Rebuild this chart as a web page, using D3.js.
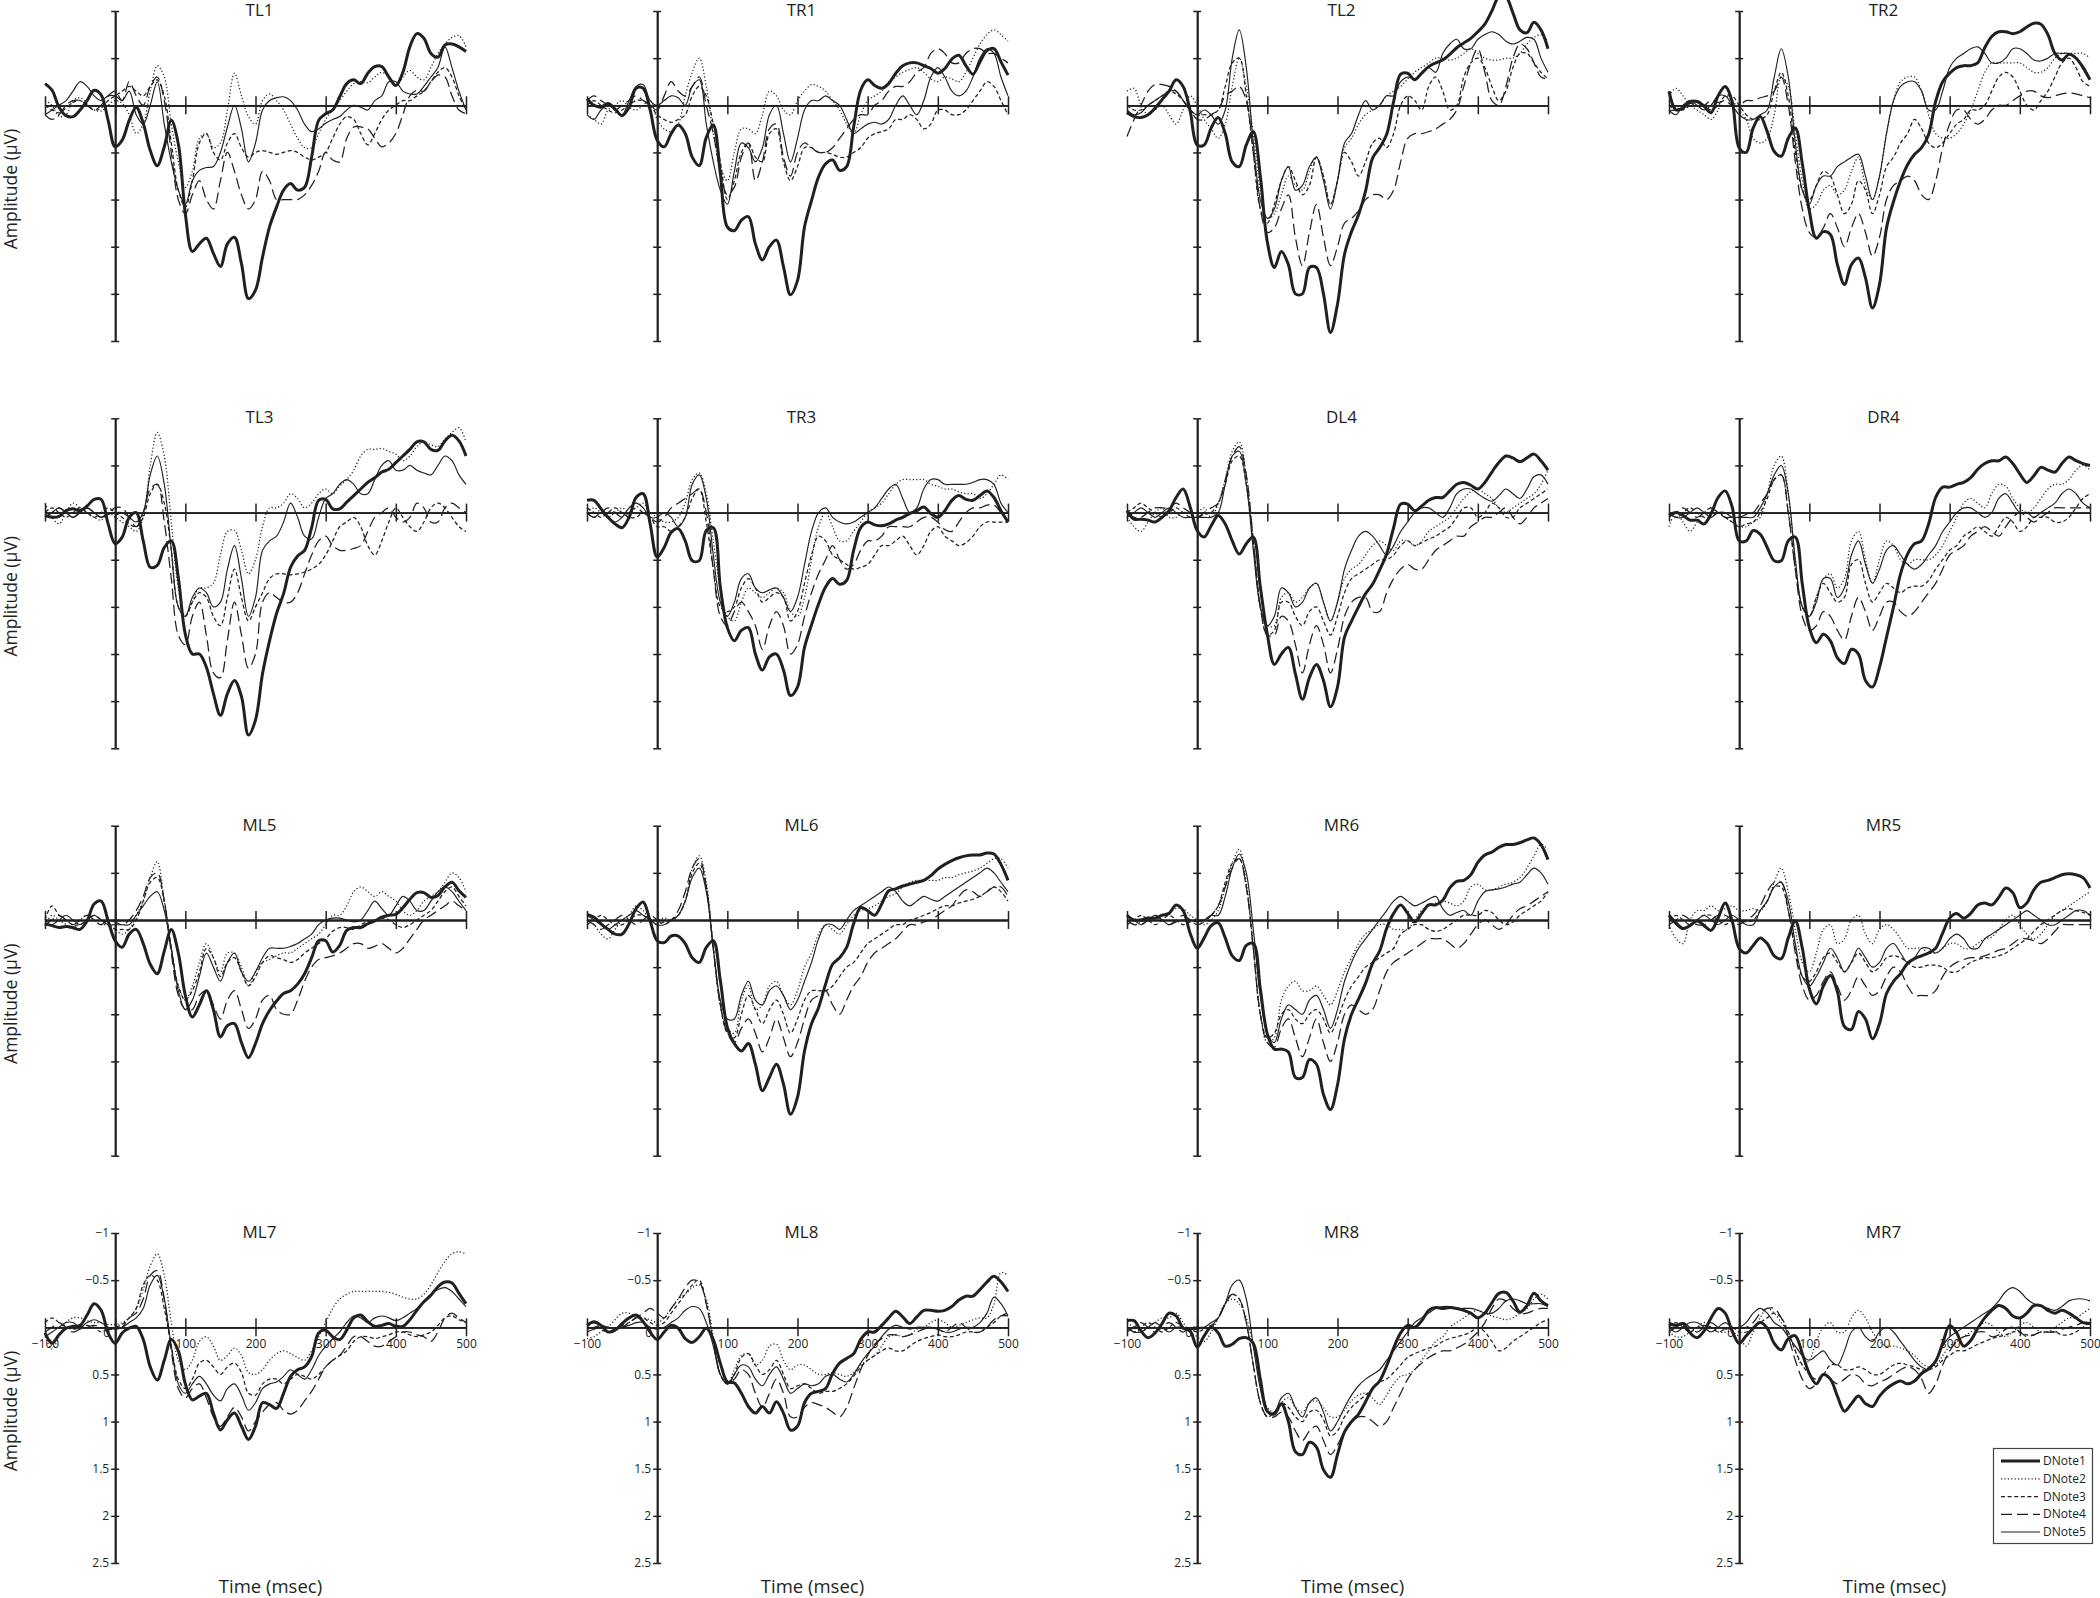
<!DOCTYPE html>
<html><head><meta charset="utf-8">
<script src="https://cdn.jsdelivr.net/npm/d3@7"></script>
<style>
body{margin:0;background:#fff}
svg{display:block}
text{font-family:"Open Sans","Noto Sans",sans-serif;fill:#231f20}
</style>
</head><body>
<svg id="chart" width="2100" height="1598"></svg>
<script>
// ---------- data ----------
const times = [-100,-90,-80,-70,-60,-50,-40,-30,-20,-10,0,10,20,30,40,50,60,70,80,90,100,110,120,130,140,150,160,170,180,190,200,210,220,230,240,250,260,270,280,290,300,310,320,330,340,350,360,370,380,390,400,410,420,430,440,450,460,470,480,490,500];
const seriesNames = ["DNote1","DNote2","DNote3","DNote4","DNote5"];
const panelNames = ["TL1","TR1","TL2","TR2","TL3","TR3","DL4","DR4","ML5","ML6","MR6","MR5","ML7","ML8","MR8","MR7"];
const yTickValues = [-1,-0.5,0,0.5,1,1.5,2,2.5];
const yTickLabels = ["−1","−0.5","","0.5","1","1.5","2","2.5"];
const xTickValues = [-100,0,100,200,300,400,500];
const xTickLabels = ["−100","0","100","200","300","400","500"];

// amplitude (µV) per series, sampled every 10 ms from -100 to 500
const TL1 = [
[-.23,-.16,.02,.11,.12,.05,-.05,-.16,-.11,.16, .44,.37,.16,.02,.19,.48,.64,.44,.16,.41, 1.15,1.55,1.47,1.41,1.57,1.71,1.47,1.4,1.68,2.05, 1.96,1.61,1.29,1.08,.9,.83,.9,.87,.55,.16, .09,.05,-.09,-.23,-.27,-.23,-.34,-.41,-.41,-.3, -.21,-.35,-.62,-.76,-.71,-.55,-.51,-.64,-.65,-.62, -.57],
[-.05,0,.12,.1,-.05,-.08,-.02,.05,.06,0, -.05,-.02,.1,.3,.2,-.15,-.42,-.3,.2,.6, .87,.7,.35,.3,.45,.4,.05,-.34,-.1,.12, .2,-.05,-.12,-.05,.05,.2,.35,.45,.45,.3, .15,.05,-.05,-.15,-.23,-.25,-.24,-.3,-.35,-.3, -.2,-.3,-.37,-.3,-.27,-.4,-.55,-.65,-.72,-.74, -.62],
[0,.05,.08,.03,-.03,-.05,0,.05,.03,-.05, -.1,-.15,-.2,-.15,-.1,-.2,-.27,-.1,.4,.9, 1.08,.8,.4,.3,.5,.58,.4,.3,.45,.55, .5,.48,.5,.52,.5,.48,.5,.55,.58,.55, .5,.35,.2,.12,.15,.3,.42,.3,.15,.05, 0,-.05,-.05,-.1,-.15,-.25,-.35,-.4,-.3,-.1, .05],
[.1,.15,.1,0,-.05,-.05,0,.05,0,-.1, -.15,-.05,-.25,-.1,0,-.2,-.3,-.05,.5,1.0, 1.15,.95,.8,1.0,1.1,.8,.5,.7,.95,1.1, 1.0,.7,.8,1.0,1.0,1.0,1.0,.95,.85,.7, .5,.58,.6,.35,.23,.23,.25,.35,.44,.4, .3,.1,-.1,-.16,-.15,-.25,-.32,-.3,-.1,.05, .09],
[.1,.05,0,-.05,-.15,-.25,-.2,-.1,-.05,-.1, -.1,-.05,-.15,.1,.2,0,-.25,.2,.6,.9, 1.05,.8,.69,.66,.65,.5,.23,0,.25,.6, .4,.05,-.05,-.08,-.09,-.05,.05,.2,.28,.25, .19,.15,.12,.05,0,.02,.05,-.05,-.1,-.25, -.25,-.15,-.12,-.12,-.2,-.3,-.4,-.62,-.4,-.15, .05]
];
const TR1 = [
[-.07,0,.02,-.02,.04,.11,.02,-.18,-.18,.05, .37,.44,.3,.21,.3,.55,.64,.34,.21,.72, 1.29,1.33,1.22,1.18,1.47,1.64,1.5,1.43,1.71,2.01, 1.86,1.29,1.01,.76,.62,.58,.69,.65,.23,-.16, -.27,-.21,-.18,-.23,-.34,-.42,-.45,-.45,-.42,-.39, -.34,-.39,-.49,-.53,-.42,-.33,-.46,-.58,-.6,-.46, -.32],
[.1,.15,.2,.05,0,-.05,.02,.05,0,-.05, .15,.25,.28,.2,-.1,-.35,-.5,-.2,.3,.65, .8,.5,.25,.25,.3,.1,-.15,-.1,.05,.1, -.05,-.15,-.22,-.2,-.15,-.05,.05,.2,.3,.1, -.05,-.1,-.15,-.25,-.3,-.35,-.38,-.4,-.35,-.28, -.25,-.3,-.28,-.25,-.35,-.5,-.65,-.75,-.8,-.75, -.68],
[0,-.05,0,.05,.08,.05,0,-.05,-.05,0, .1,.15,.18,.15,.1,-.1,-.2,-.1,.2,.6, 1.0,.8,.5,.4,.55,.6,.3,.25,.6,.8, .65,.45,.45,.5,.5,.52,.55,.55,.5,.45, .35,.3,.28,.25,.15,.15,.1,.15,.25,.2, .05,.05,.1,.1,.05,-.05,-.15,-.25,-.2,-.05, .1],
[-.05,-.1,-.05,0,.05,0,-.05,-.1,-.05,0, .05,-.1,-.25,-.15,-.1,-.2,-.3,0,.3,.7, .95,.87,.55,.4,.8,.6,.25,.2,.55,.75, .5,.4,.45,.5,.5,.45,.35,.25,.15,.1, .1,0,-.05,-.15,-.2,-.2,-.25,-.35,-.4,-.55, -.6,-.55,-.45,-.45,-.55,-.6,-.6,-.55,-.55,-.5, -.45],
[.1,.15,.05,0,.05,.1,-.05,-.2,-.22,-.05, 0,-.05,-.1,-.08,0,-.2,-.27,.2,.6,.9, 1.05,.7,.4,.45,.6,.45,.1,0,.3,.6, .35,.05,-.05,-.05,-.1,-.05,0,.15,.3,.25, .2,.18,.2,.15,0,-.1,0,.1,-.05,-.3, -.4,-.3,-.15,-.1,-.15,-.3,-.5,-.6,-.55,-.3, -.1]
];
const TL2 = [
[.08,.12,.13,.1,.03,-.06,-.15,-.27,-.2,.06, .42,.42,.24,.13,.3,.6,.65,.42,.28,.75, 1.45,1.72,1.55,1.69,2.0,2.0,1.72,1.72,2.0,2.41, 2.11,1.58,1.34,1.16,.91,.56,.45,.31,-.04,-.33, -.34,-.27,-.34,-.41,-.45,-.48,-.54,-.61,-.66,-.71, -.78,-.86,-1.0,-1.15,-1.15,-.98,-.8,-.77,-.88,-.8, -.6],
[-.15,-.18,0,.1,.05,0,.1,.2,.05,-.1, 0,.15,.25,.35,.2,-.2,-.5,-.2,.3,.9, 1.2,1.15,.95,.75,.85,.9,.7,.55,.75,1.05, .8,.45,.35,.2,.1,.05,0,-.1,-.15,-.2, -.28,-.35,-.4,-.45,-.5,-.5,-.48,-.5,-.55,-.6, -.55,-.5,-.48,-.48,-.5,-.5,-.55,-.65,-.72,-.75, -.68],
[0,.05,.05,0,-.05,-.1,-.15,-.12,-.05,.05, .1,.1,.1,.05,-.2,-.45,-.5,-.1,.5,1.1, 1.25,1.05,.8,.65,.8,.95,.85,.55,.75,1.05, .8,.5,.6,.75,.6,.4,.35,.45,.3,0, -.1,-.05,.05,-.2,-.3,-.15,.05,0,-.3,-.45, -.5,-.4,-.2,-.05,-.15,-.4,-.55,-.55,-.45,-.35, -.28],
[.33,.15,0,-.15,-.22,-.22,-.2,-.15,-.05,.05, .15,.15,.1,.05,-.1,-.15,-.2,-.05,.5,1.1, 1.35,1.3,1.1,.95,1.4,1.7,1.35,1.05,1.4,1.7, 1.5,1.25,1.2,1.12,1.0,.95,.95,1.0,.9,.6, .35,.3,.3,.28,.25,.2,.15,.05,-.2,-.45, -.6,-.35,-.05,0,-.2,-.5,-.65,-.6,-.45,-.3, -.28],
[.05,.1,.08,0,-.05,-.1,-.15,-.15,-.05,.05, .1,.05,.1,.2,.05,-.5,-.8,-.4,.4,1.0, 1.2,1.1,.8,.65,.9,.85,.65,.55,.8,1.1, .8,.4,.3,.1,-.05,.05,0,-.1,-.1,-.25, -.3,-.28,-.35,-.4,-.35,-.55,-.65,-.7,-.6,-.6, -.7,-.75,-.78,-.75,-.68,-.65,-.68,-.72,-.7,-.5, -.35]
];
const TR2 = [
[-.15,.05,.03,-.04,-.04,.01,.08,-.1,-.2,-.04, .45,.5,.24,.12,.28,.49,.54,.35,.24,.62, 1.12,1.41,1.34,1.37,1.69,1.9,1.69,1.62,1.83,2.15, 1.9,1.3,1.02,.8,.63,.52,.45,.31,-.04,-.25, -.34,-.4,-.42,-.42,-.45,-.61,-.73,-.78,-.78,-.76, -.78,-.83,-.87,-.86,-.75,-.55,-.48,-.54,-.5,-.4, -.27],
[-.1,-.18,-.1,0,.05,.1,.15,.05,-.1,-.05, .05,.15,.35,.4,.35,.1,-.3,-.2,.3,.8, 1.1,1.05,.9,.85,.95,.9,.7,.55,.85,1.0, .75,.3,-.05,-.25,-.3,-.3,-.15,.1,.3,.35, .35,.3,.2,.05,-.15,-.35,-.45,-.45,-.45,-.45, -.45,-.4,-.35,-.35,-.4,-.5,-.55,-.55,-.55,-.55, -.5],
[0,.05,.05,0,-.05,0,.05,0,-.1,-.1, 0,.1,.15,.15,.1,-.15,-.35,-.1,.5,.9, 1.0,.85,.7,.75,.95,1.15,1.05,.8,.9,1.15, .95,.65,.55,.4,.3,.15,.25,.4,.45,.4, .3,.2,.15,.05,.05,0,-.15,-.3,-.35,-.3, -.15,0,.05,-.05,-.15,-.3,-.45,-.5,-.4,-.25, -.2],
[.05,.05,0,-.02,0,0,-.05,-.03,-.05,0, 0,-.05,-.05,-.08,-.1,-.15,-.3,0,.6,1.1, 1.35,1.4,1.3,1.15,1.3,1.5,1.3,1.15,1.35,1.6, 1.4,1.0,.85,.8,.75,.8,.95,1.0,.8,.45, .2,.05,.05,.15,.2,.15,.05,0,0,-.05, -.1,-.15,-.15,-.1,-.08,-.1,-.12,-.13,-.12,-.1, -.08],
[.05,.1,0,-.05,0,.05,0,-.1,-.1,0, .1,.15,.15,.1,.05,-.3,-.6,-.3,.4,.9, 1.05,.85,.75,.75,.65,.6,.55,.52,.75,1.0, .75,.3,-.05,-.2,-.25,-.25,-.15,.05,.05,-.15, -.4,-.5,-.55,-.6,-.62,-.55,-.45,-.45,-.5,-.6, -.6,-.55,-.48,-.47,-.5,-.55,-.55,-.55,-.5,-.42, -.28]
];
const TL3 = [
[.03,.05,.04,-.02,-.04,-.02,-.07,-.14,-.14,.12, .33,.26,.05,0,.3,.58,.56,.37,.3,.69, 1.29,1.5,1.5,1.64,1.92,2.15,1.92,1.78,1.95,2.36, 2.2,1.71,1.36,1.07,.86,.58,.46,.4,.16,-.13, -.14,-.04,-.04,-.11,-.18,-.25,-.32,-.37,-.43,-.46, -.53,-.6,-.67,-.75,-.75,-.67,-.66,-.76,-.82,-.76, -.6],
[-.1,.05,.12,0,-.1,-.05,0,.05,.08,0, .05,.1,.15,.2,.05,-.5,-.85,-.6,.1,.8, 1.1,.95,.8,.8,.75,.45,.2,.19,.4,.65, .5,.15,-.05,-.05,-.1,-.2,-.15,-.05,-.1,-.2, -.25,-.2,-.28,-.35,-.45,-.6,-.67,-.67,-.68,-.65, -.62,-.55,-.6,-.7,-.75,-.72,-.7,-.78,-.85,-.9, -.75],
[0,-.05,0,.05,0,-.05,0,.05,0,-.05, 0,.05,.12,.15,.05,-.2,-.3,-.1,.4,1.0, 1.1,.95,.85,.9,1.1,1.2,.9,.6,.9,1.15, 1.0,.85,.7,.65,.65,.66,.65,.63,.6,.55, .45,.3,.15,.1,.05,.15,.35,.45,.3,.1, -.05,.05,.15,.2,.1,-.05,-.1,-.05,.05,.15, .2],
[.05,0,-.05,0,.05,0,-.05,0,.05,0, -.05,-.05,.05,.15,0,-.25,-.3,.1,.7,1.3, 1.4,1.1,.95,1.3,1.7,1.75,1.35,.95,1.3,1.65, 1.5,.95,.85,.9,.95,.95,.85,.65,.45,.3, .25,.35,.4,.4,.38,.35,.2,.05,0,-.05, .05,.1,.05,-.1,-.05,.1,.1,-.05,-.1,-.05, 0],
[.05,0,-.05,0,.05,0,-.05,0,.05,.02, 0,0,.05,.1,0,-.4,-.6,-.3,.4,1.0, 1.1,.9,.8,.85,1.0,.95,.6,.35,.7,1.1, .9,.4,.3,.25,.1,-.1,.05,.25,.28,.05, -.15,-.2,-.3,-.35,-.3,-.2,-.2,-.35,-.5,-.55, -.45,-.45,-.5,-.45,-.42,-.4,-.5,-.6,-.55,-.4, -.3]
];
const TR3 = [
[-.13,-.13,-.04,.05,.12,.16,.05,-.16,-.2,.12, .47,.37,.21,.17,.3,.51,.51,.19,.16,.79, 1.22,1.36,1.25,1.22,1.5,1.67,1.53,1.5,1.67,1.94, 1.85,1.43,1.19,.97,.79,.7,.76,.72,.4,.16, .1,.13,.14,.12,.08,.05,.01,-.02,-.06,.01, .05,-.02,-.13,-.18,-.14,-.13,-.18,-.23,-.16,-.02, .1],
[0,-.05,0,.05,0,-.05,0,-.05,-.1,0, .05,.1,.1,.05,-.1,-.35,-.42,-.2,.3,.8, 1.1,1.15,.95,.8,.85,.9,.85,.8,.85,1.05, 1.1,.9,.5,.15,0,.15,.3,.3,.2,.1, 0,-.05,-.1,-.2,-.3,-.35,-.35,-.35,-.35,-.3, -.28,-.25,-.25,-.22,-.2,-.2,-.15,-.2,-.3,-.4, -.35],
[-.05,0,.05,0,-.05,0,.05,.05,0,.05, .15,.15,.2,.15,.05,-.15,-.25,.1,.6,1.0, 1.05,1.0,.8,.7,.8,.95,.9,.85,.9,1.15, 1.05,.75,.45,.25,.3,.45,.5,.55,.6,.58, .55,.45,.35,.35,.3,.25,.35,.45,.35,.2, .15,.25,.3,.35,.32,.25,.15,.1,.1,.1, .1],
[0,.05,0,-.05,0,.05,0,-.05,0,.05, .1,.05,-.05,-.1,-.15,-.2,-.25,0,.6,1.1, 1.2,1.05,.95,1.05,1.2,1.45,1.2,1.05,1.2,1.5, 1.4,1.1,.85,.65,.5,.35,.5,.6,.55,.4, .3,.3,.25,.15,.15,.15,.15,.1,.05,.05, .1,.18,.2,.1,0,-.05,-.05,-.08,-.08,0, .1],
[0,.05,0,.05,.1,.05,-.05,-.1,-.05,.05, .05,0,.05,.15,.05,-.3,-.4,-.15,.45,.95, 1.1,.95,.7,.65,.8,.85,.82,.8,.9,1.05, .9,.55,.2,0,-.05,.05,.1,.12,.1,.05, 0,-.05,-.15,-.25,-.3,-.15,0,-.05,-.25,-.35, -.35,-.3,-.3,-.3,-.3,-.32,-.35,-.35,-.3,-.1, 0]
];
const DL4 = [
[-.02,.07,.07,.08,.1,.05,-.02,-.16,-.25,-.06, .19,.26,.14,.03,.12,.3,.44,.33,.26,.79, 1.29,1.61,1.5,1.43,1.71,1.98,1.75,1.61,1.78,2.06, 1.85,1.32,1.15,1.0,.86,.76,.61,.44,.16,-.09, -.09,-.02,-.07,-.13,-.16,-.16,-.23,-.3,-.32,-.29, -.25,-.32,-.43,-.53,-.6,-.58,-.54,-.58,-.62,-.55, -.45],
[.05,.15,.2,.1,0,-.05,.05,.05,0,0, 0,-.05,.05,-.1,-.35,-.65,-.75,-.4,.3,1.0, 1.2,1.2,.9,.85,.95,.9,.8,.75,.95,1.15, .95,.7,.6,.55,.45,.35,.3,.35,.4,.3, .3,.35,.3,.2,.15,.1,.05,-.05,-.15,-.22, -.25,-.2,-.15,-.05,0,-.05,-.1,-.15,-.2,-.3, -.45],
[0,-.05,-.1,-.05,0,.05,0,-.05,0,.05, .05,.02,0,-.1,-.3,-.55,-.6,-.3,.3,1.0, 1.3,1.25,.95,.95,1.1,1.2,1.05,1.0,1.15,1.3, 1.1,.85,.7,.65,.6,.55,.5,.5,.45,.35, .3,.35,.32,.28,.25,.2,.15,.05,-.05,-.05, .05,0,-.1,-.05,.05,.05,-.05,-.1,-.15,-.2, -.25],
[0,.05,.05,0,-.05,-.05,-.05,-.1,-.05,0, .05,0,-.05,-.1,-.35,-.6,-.7,-.4,.3,1.0, 1.3,1.3,1.1,1.15,1.4,1.7,1.4,1.2,1.4,1.7, 1.45,1.1,.95,.9,.9,1.05,1.05,.85,.7,.6, .55,.6,.6,.5,.4,.35,.3,.25,.25,.15, .1,.05,.05,0,-.05,.05,.12,.05,-.05,-.1, -.15],
[.05,0,-.05,0,.05,0,-.05,0,.05,.05, .05,.05,.05,0,-.3,-.6,-.65,-.3,.4,1.0, 1.2,1.1,.8,.85,1.0,.95,.8,.75,.95,1.15, .95,.6,.4,.25,.2,.25,.35,.45,.35,.2, .1,0,-.05,-.05,0,.05,-.05,-.2,-.25,-.25, -.2,-.15,-.12,-.18,-.25,-.2,-.15,-.25,-.38,-.4, -.3]
];
const DR4 = [
[.03,0,.03,.08,.08,.12,.01,-.16,-.23,-.06, .3,.3,.19,.23,.37,.51,.51,.3,.26,.76, 1.22,1.38,1.29,1.36,1.54,1.6,1.45,1.5,1.78,1.85, 1.64,1.32,1.0,.65,.44,.33,.3,.12,-.16,-.27, -.27,-.3,-.32,-.37,-.46,-.52,-.55,-.55,-.59,-.52, -.41,-.32,-.39,-.48,-.45,-.43,-.52,-.59,-.55,-.52, -.5],
[.15,0,.1,.2,.1,0,-.05,0,.05,.1, .15,.15,.1,.05,-.2,-.5,-.6,-.2,.5,1.0, 1.1,.9,.7,.65,.8,.7,.3,.2,.5,.75, .5,.3,.35,.5,.55,.5,.5,.5,.45,.35, .2,.05,-.1,-.15,-.1,-.05,-.2,-.3,-.28,-.15, -.05,0,-.05,-.15,-.25,-.3,-.3,-.35,-.45,-.5, -.45],
[0,.05,0,-.05,0,.05,.05,0,.05,.1, .15,.12,.1,0,-.15,-.35,-.4,0,.6,1.0, 1.1,.9,.75,.85,.95,.9,.55,.5,.75,.95, .85,.75,.8,.85,.8,.78,.78,.72,.6,.5, .4,.35,.25,.2,.15,.2,.25,.15,.05,.1, .2,.15,.05,.05,.05,.1,.1,.05,-.05,-.15, -.2],
[.05,0,-.05,0,.05,0,-.05,0,.05,.05, .05,.02,0,-.1,-.2,-.35,-.4,0,.6,1.1, 1.25,1.2,1.05,1.1,1.25,1.35,1.1,.9,1.05,1.25, 1.1,.95,.95,1.05,1.1,1.05,.95,.85,.75,.6, .45,.4,.35,.25,.2,.15,.2,.25,.15,.05, 0,.05,.1,.05,0,-.05,-.05,-.05,-.05,-.05, -.05],
[0,.05,.05,0,-.05,0,.05,0,0,.05, .05,.05,.05,-.05,-.2,-.4,-.5,-.2,.5,1.0, 1.1,.95,.7,.7,.9,.8,.45,.3,.55,.75, .6,.4,.35,.45,.55,.6,.55,.45,.35,.2, .1,0,-.05,-.05,0,.05,0,-.15,-.2,-.1, 0,0,.05,0,-.05,-.1,-.2,-.25,-.2,-.1, -.05]
];
const ML5 = [
[.04,.06,.08,.07,.08,.1,.01,-.17,-.2,.01, .22,.29,.15,.1,.25,.47,.57,.33,.1,.35, .8,1.03,.9,.75,.95,1.24,1.12,1.1,1.3,1.46, 1.31,1.1,.96,.86,.78,.75,.68,.57,.4,.22, .22,.34,.27,.11,.08,.08,.04,.01,-.03,-.05, -.06,-.13,-.22,-.29,-.29,-.24,-.26,-.35,-.4,-.31, -.24],
[.05,-.05,0,.05,.1,0,-.05,0,.05,.05, .1,.15,.1,-.05,-.2,-.45,-.62,-.2,.3,.7, .85,.7,.45,.25,.4,.55,.35,.35,.5,.7, .55,.45,.42,.38,.35,.35,.3,.25,.2,.15, .05,-.05,-.05,-.15,-.3,-.35,-.3,-.25,-.3,-.25, -.2,-.1,-.05,-.1,-.2,-.25,-.3,-.4,-.5,-.45, -.3],
[0,-.15,-.05,0,.05,.05,0,-.05,0,.05, .1,.1,.1,0,-.2,-.4,-.45,-.2,.3,.7, .85,.75,.55,.3,.4,.6,.45,.4,.55,.7, .6,.45,.38,.4,.42,.45,.42,.35,.3,.25, .2,.12,.08,.08,.1,.05,.02,0,-.02,0, .05,.08,.05,0,-.05,-.1,-.2,-.3,-.35,-.25, -.15],
[.05,0,-.05,0,.05,0,-.05,0,.05,0, .02,.05,0,-.1,-.25,-.45,-.5,-.2,.35,.8, .95,.95,.8,.75,.9,1.05,.85,.75,.95,1.15, 1.05,.85,.8,.95,1.0,1.0,.85,.65,.5,.42, .4,.38,.35,.3,.25,.25,.3,.28,.25,.3, .35,.3,.2,.1,0,-.05,-.1,-.15,-.2,-.15, -.1],
[.05,.05,0,-.05,0,.05,0,-.05,0,.05, .05,.05,.05,-.05,-.15,-.25,-.3,-.1,.3,.75, .95,.85,.6,.35,.5,.65,.45,.35,.55,.65, .55,.4,.3,.3,.3,.28,.25,.2,.15,.05, 0,-.02,-.02,0,.02,0,-.1,-.2,-.12,-.05, -.15,-.25,-.2,-.1,-.1,-.2,-.3,-.35,-.3,-.2, -.1]
];
const ML6 = [
[-.06,-.03,.04,.1,.15,.15,.04,-.12,-.19,.01, .22,.24,.17,.17,.25,.4,.45,.29,.22,.64, 1.14,1.31,1.39,1.31,1.53,1.81,1.67,1.53,1.74,2.06, 1.88,1.39,1.1,.93,.68,.47,.4,.29,.04,-.13, -.1,-.05,-.17,-.31,-.33,-.36,-.38,-.4,-.42,-.47, -.54,-.59,-.63,-.66,-.68,-.69,-.69,-.71,-.7,-.59, -.42],
[0,.05,.15,.2,.1,0,-.05,-.15,-.1,0, 0,-.02,0,-.05,-.2,-.55,-.68,-.4,.3,.9, 1.15,1.2,.85,.7,.95,.9,.7,.65,.8,.9, .75,.5,.35,.15,.05,.1,.15,.05,-.05,-.1, -.12,-.15,-.2,-.25,-.28,-.35,-.4,-.42,-.42,-.42, -.42,-.45,-.45,-.48,-.5,-.52,-.55,-.6,-.65,-.65, -.55],
[.05,0,-.05,0,.05,.05,0,-.05,-.05,0, .05,.02,0,-.05,-.2,-.5,-.6,-.35,.3,.9, 1.2,1.25,1.0,.8,.95,1.1,.95,.85,1.0,1.2, 1.05,.85,.75,.75,.75,.7,.6,.5,.45,.35, .25,.2,.15,.1,.05,.05,0,-.02,-.05,-.08, -.12,-.15,-.15,-.18,-.2,-.22,-.25,-.3,-.35,-.3, -.2],
[0,.05,.1,.05,0,-.05,0,.05,0,-.05, 0,.05,0,-.1,-.3,-.55,-.65,-.35,.3,.9, 1.2,1.3,1.15,1.05,1.2,1.4,1.25,1.05,1.25,1.45, 1.3,1.05,.85,.8,.75,.9,1.0,.85,.7,.6, .45,.35,.3,.25,.2,.12,.05,.05,.02,0, -.05,-.1,-.15,-.25,-.32,-.3,-.25,-.3,-.35,-.35, -.25],
[-.05,0,.05,.1,.05,0,-.05,-.1,-.05,0, .05,.05,0,-.05,-.2,-.45,-.55,-.3,.3,.85, 1.05,1.05,.8,.65,.85,.9,.75,.7,.8,.95, .85,.65,.45,.2,.05,.05,.1,0,-.1,-.15, -.2,-.25,-.3,-.35,-.3,-.2,-.15,-.2,-.25,-.22, -.2,-.25,-.3,-.35,-.4,-.45,-.5,-.55,-.5,-.4, -.3]
];
const MR6 = [
[-.05,0,0,-.02,-.02,-.05,-.07,-.16,-.1,.14, .3,.19,.06,.03,.19,.38,.43,.27,.25,.73, 1.21,1.37,1.37,1.4,1.67,1.67,1.48,1.53,1.85,2.01, 1.75,1.26,1.0,.84,.67,.46,.33,.09,-.07,-.16, -.07,.02,-.07,-.16,-.16,-.21,-.34,-.41,-.42,-.48, -.61,-.69,-.72,-.77,-.8,-.8,-.82,-.85,-.87,-.8, -.64],
[0,.05,.02,-.02,0,-.05,-.08,-.12,-.12,-.05, 0,.05,0,-.1,-.35,-.6,-.75,-.4,.3,1.0, 1.3,1.25,.85,.7,.65,.75,.75,.7,.8,.9, .75,.55,.4,.25,.15,.1,.05,.05,.1,.1, .1,0,-.1,-.15,-.18,-.2,-.18,-.15,-.2,-.35, -.38,-.32,-.32,-.35,-.38,-.4,-.45,-.55,-.68,-.8, -.75],
[.05,0,-.05,0,.05,0,-.05,0,.05,.02, 0,0,-.05,-.15,-.4,-.6,-.65,-.35,.3,1.0, 1.25,1.2,1.0,.95,1.05,1.1,1.0,.95,1.05,1.2, 1.05,.85,.7,.6,.5,.45,.4,.35,.3,.15, .1,.05,.05,.1,.12,.1,.05,0,-.05,-.05, -.05,-.1,-.08,0,.05,.02,-.05,-.1,-.15,-.2, -.3],
[0,.05,.05,0,-.05,0,.05,0,-.05,0, .05,.02,-.05,-.15,-.35,-.55,-.65,-.35,.3,1.0, 1.3,1.35,1.15,1.05,1.25,1.45,1.25,1.05,1.3,1.5, 1.3,1.0,.9,.95,1.0,.95,.75,.55,.45,.4, .35,.3,.25,.2,.2,.2,.25,.3,.25,.15, .05,0,.05,.1,.05,-.05,-.12,-.15,-.2,-.25, -.3],
[-.05,0,.05,0,-.05,0,.05,.02,0,0, .02,0,-.05,-.05,-.25,-.55,-.7,-.5,.1,.8, 1.2,1.3,1.05,.9,.95,1.0,.85,.8,.95,1.15, .95,.65,.45,.3,.2,.1,0,-.1,-.2,-.25, -.2,-.15,-.18,-.22,-.25,-.12,-.05,-.08,-.1,-.05, -.2,-.3,-.32,-.33,-.35,-.38,-.4,-.48,-.55,-.5, -.38]
];
const MR5 = [
[-.05,.03,.09,.06,.01,.06,.11,-.02,-.18,.01, .3,.35,.27,.19,.25,.38,.41,.19,.01,.3, .73,.89,.7,.59,.76,1.13,1.16,.97,1.05,1.26, 1.1,.78,.65,.57,.46,.41,.38,.35,.3,.14, -.02,-.07,-.02,-.07,-.16,-.18,-.16,-.24,-.34,-.29, -.13,-.18,-.32,-.4,-.42,-.45,-.48,-.49,-.48,-.45, -.34],
[.05,.2,.25,0,-.1,-.1,-.15,-.1,-.12,-.15, -.1,-.1,-.12,-.1,-.2,-.4,-.55,-.3,.1,.45, .55,.35,.1,.05,.25,.2,0,-.05,.15,.25, .1,.05,.1,.2,.3,.3,.3,.35,.35,.3, .25,.25,.3,.3,.25,.2,.18,.1,0,-.05, .05,.15,.2,.15,.05,-.05,-.1,-.15,-.2,-.25, -.3],
[0,-.05,0,.05,0,-.05,-.05,0,.05,0, 0,.02,0,-.1,-.2,-.35,-.35,-.1,.3,.6, .65,.55,.4,.35,.45,.55,.45,.35,.45,.55, .5,.4,.38,.4,.45,.5,.5,.48,.48,.5, .55,.55,.5,.45,.42,.4,.4,.38,.35,.3, .25,.2,.12,.05,0,-.05,-.1,-.12,-.1,-.08, -.05],
[.05,0,-.05,0,.05,.05,0,-.05,-.05,0, .05,0,-.05,-.15,-.3,-.4,-.4,-.1,.35,.7, .85,.8,.65,.55,.7,.85,.75,.6,.7,.8, .75,.6,.5,.55,.7,.8,.8,.8,.75,.6, .5,.45,.42,.4,.4,.38,.35,.32,.3,.25, .2,.2,.22,.25,.2,.12,.05,.05,.05,.05, .05],
[-.05,.05,.1,.05,0,-.05,0,.05,0,-.05, 0,.05,.05,-.1,-.2,-.35,-.4,-.2,.25,.6, .7,.6,.45,.3,.4,.55,.45,.3,.4,.5, .45,.3,.25,.35,.45,.4,.3,.3,.35,.3, .2,.15,.2,.3,.3,.2,.15,.1,.05,0, -.05,-.1,-.05,0,.05,.05,0,-.05,-.1,-.1, -.05]
];
const ML7 = [
[.06,.17,.08,.01,-.01,-.02,-.13,-.25,-.18,.06, .17,.06,.01,-.01,.13,.42,.56,.35,.13,.25, .6,.77,.73,.7,.91,1.09,.98,.91,1.05,1.19, 1.05,.8,.82,.86,.7,.52,.45,.42,.31,.06, .03,.1,.13,.03,-.1,-.13,-.06,-.01,-.02,-.04, -.01,-.01,-.08,-.18,-.27,-.34,-.43,-.48,-.47,-.36, -.25],
[.1,.23,.1,-.05,-.1,-.1,-.07,-.05,-.05,-.03, -.03,-.05,-.1,-.2,-.4,-.65,-.78,-.55,-.05,.35, .45,.35,.15,.1,.2,.35,.3,.22,.3,.48, .5,.45,.35,.28,.25,.28,.32,.35,.25,.1, -.05,-.2,-.3,-.35,-.38,-.38,-.38,-.38,-.38,-.37, -.35,-.32,-.3,-.3,-.35,-.45,-.58,-.7,-.78,-.8, -.78],
[-.05,-.1,-.05,0,.02,0,-.02,0,.05,.02, 0,-.03,-.1,-.2,-.45,-.55,-.5,-.2,.2,.55, .65,.55,.38,.35,.42,.5,.42,.38,.48,.7, .72,.6,.55,.55,.6,.55,.5,.52,.55,.5, .42,.35,.3,.25,.15,.1,.1,.12,.1,.08, .05,.05,.08,.1,.08,.05,-.02,-.1,-.12,-.08, -.05],
[.05,0,-.05,0,.05,.02,0,-.02,0,.02, .02,0,-.1,-.15,-.3,-.55,-.6,-.3,.25,.65, .75,.65,.6,.75,.95,1.05,.95,.85,.95,1.1, 1.0,.9,.82,.8,.88,.92,.88,.78,.68,.55, .42,.35,.3,.2,.1,.1,.15,.2,.2,.15, .1,.05,.05,.08,.1,.15,.05,-.1,-.15,-.1, -.05],
[.1,.05,0,-.05,-.05,0,-.05,-.08,-.05,0, .02,0,-.05,-.1,-.2,-.45,-.55,-.3,.2,.6, .7,.6,.52,.6,.72,.78,.65,.6,.72,.88, .8,.65,.6,.58,.52,.45,.5,.55,.45,.3, .2,.12,.05,-.05,-.12,-.1,-.05,-.1,-.12,-.1, -.07,-.1,-.15,-.2,-.28,-.35,-.4,-.42,-.38,-.3, -.22]
];
const ML8 = [
[-.02,-.06,-.02,.05,.03,-.04,-.1,-.13,-.06,.05, .13,.05,-.02,.01,.12,.16,.1,.01,.13,.38, .58,.59,.7,.84,.91,.84,.91,.79,.91,1.09, 1.05,.8,.7,.68,.65,.49,.38,.33,.28,.13, .05,.05,-.02,-.1,-.17,-.11,-.04,-.11,-.18,-.18, -.17,-.18,-.22,-.29,-.33,-.33,-.4,-.48,-.54,-.48, -.38],
[.12,.1,.05,0,-.08,-.15,-.15,-.1,-.1,-.08, -.05,-.1,-.2,-.3,-.35,-.42,-.45,-.3,.1,.5, .6,.45,.3,.28,.4,.35,.2,.18,.35,.45, .4,.4,.45,.5,.5,.48,.5,.52,.48,.4, .35,.3,.2,.1,.08,.1,.08,.02,0,-.05, -.08,-.05,0,-.02,-.05,-.08,-.1,-.1,-.25,-.58, -.55],
[0,-.05,.02,.05,.02,-.02,-.05,-.1,-.1,-.05, -.02,-.05,-.15,-.25,-.35,-.45,-.5,-.25,.15,.5, .6,.5,.32,.28,.4,.5,.45,.35,.5,.65, .62,.6,.65,.7,.68,.68,.65,.6,.52,.42, .35,.3,.25,.22,.25,.25,.2,.15,.12,.1, .08,.1,.1,.08,.05,.05,.05,0,-.05,-.12, -.15],
[.02,0,-.02,0,.02,0,-.05,-.1,-.15,-.2, -.15,-.1,-.2,-.3,-.42,-.5,-.48,-.25,.15,.5, .6,.55,.45,.5,.7,.85,.7,.55,.7,.95, .95,.85,.8,.82,.85,.9,.95,.85,.65,.45, .3,.18,.12,.08,.08,.1,.08,.05,.02,0, .02,.05,0,-.05,0,.05,.05,0,-.08,-.12, -.12],
[.05,.02,0,0,.02,0,-.02,-.05,-.05,0, .02,0,-.05,-.1,-.18,-.22,-.2,-.05,.2,.5, .6,.5,.4,.42,.55,.62,.5,.42,.55,.7, .65,.6,.62,.6,.52,.5,.55,.58,.5,.38, .28,.2,.1,.02,-.02,0,.02,0,0,0, .02,.05,.05,.02,0,0,-.05,-.15,-.32,-.25, -.12]
];
const MR8 = [
[-.07,-.07,.04,.11,.06,-.04,-.15,-.12,.01,.04, .21,.09,0,.06,.2,.18,.12,.11,.17,.55, .89,.92,.81,1.0,1.32,1.35,1.22,1.27,1.51,1.59, 1.35,1.11,1.0,.92,.79,.65,.57,.41,.22,.06, -.02,0,-.07,-.18,-.21,-.2,-.21,-.2,-.18,-.15, -.1,-.15,-.26,-.36,-.37,-.28,-.16,-.23,-.36,-.28, -.23],
[-.05,0,.05,0,-.05,-.1,-.1,-.15,-.05,.05, .1,.15,.05,-.1,-.25,-.3,-.25,-.1,.2,.55, .85,.9,.8,.75,.85,.9,.8,.78,.85,.95, .95,.88,.78,.72,.7,.75,.82,.72,.6,.52, .5,.45,.35,.25,.15,.1,0,-.05,-.1,-.15, -.18,-.15,-.12,-.1,-.08,-.1,-.15,-.2,-.3,-.35, -.3],
[0,.05,0,-.05,0,.05,0,-.05,0,.02, .05,.02,0,-.1,-.25,-.35,-.3,-.05,.4,.8, .95,.9,.8,.85,.95,1.0,.9,.88,.98,1.15, 1.1,.95,.85,.78,.72,.65,.58,.55,.48,.4, .32,.28,.25,.22,.2,.15,.12,.1,.08,.05, 0,.05,.15,.25,.22,.15,.1,.05,0,-.05, -.08],
[.05,0,-.05,0,.05,0,-.05,0,.05,0, 0,0,-.02,-.1,-.25,-.35,-.3,-.05,.4,.8, .95,.95,.9,.95,1.1,1.2,1.1,1.05,1.2,1.35, 1.25,1.1,1.0,.95,.95,1.0,1.05,1.0,.85,.7, .55,.45,.38,.32,.28,.25,.25,.22,.18,.12, .05,-.05,-.2,-.3,-.28,-.2,-.15,-.15,-.18,-.2, -.2],
[0,.05,.05,0,-.05,0,.05,0,0,.02, .02,0,-.05,-.1,-.25,-.45,-.5,-.3,.2,.65, .9,.9,.75,.7,.85,.95,.8,.75,.9,1.1, 1.0,.85,.72,.62,.55,.5,.45,.35,.25,.15, .05,-.05,-.1,-.15,-.2,-.22,-.22,-.2,-.2,-.2, -.18,-.15,-.15,-.2,-.28,-.3,-.28,-.25,-.25,-.25, -.22]
];
const MR7 = [
[-.04,-.02,-.04,.06,.11,.04,-.1,-.2,-.15,.04, .17,.09,.01,-.05,.01,.17,.24,.12,.09,.28, .49,.6,.5,.55,.73,.89,.81,.73,.81,.84, .73,.65,.6,.57,.6,.57,.49,.44,.36,.17, -.02,.06,.2,.14,.01,-.1,-.18,-.23,-.2,-.12, -.1,-.15,-.23,-.23,-.18,-.15,-.18,-.15,-.1,-.05, -.04],
[.05,.1,.1,.05,0,-.05,0,.05,.05,.05, .1,.2,.05,-.1,-.2,-.15,-.05,.05,.25,.4, .35,.15,0,-.05,.05,.05,-.1,-.18,-.1,.05, .15,.2,.2,.22,.25,.3,.38,.42,.4,.3, .2,.15,.1,.05,0,-.05,-.02,.05,.1,.05, -.02,-.05,0,.05,.05,0,-.05,-.1,-.1,-.15, -.2],
[0,-.05,0,.05,0,-.02,0,.05,.02,0, .05,.05,0,-.05,-.1,-.15,-.1,.05,.25,.4, .5,.55,.5,.4,.4,.45,.45,.42,.45,.5, .5,.45,.4,.38,.4,.42,.45,.45,.42,.35, .3,.25,.25,.22,.18,.15,.12,.1,.08,.05, .05,.08,.08,.05,.05,.05,.08,.08,.05,0, -.05],
[.05,0,-.05,0,.05,0,-.05,0,.02,0, 0,0,-.05,-.15,-.2,-.2,-.1,.1,.35,.55, .65,.6,.5,.55,.6,.55,.5,.52,.6,.62, .58,.55,.5,.45,.42,.45,.55,.7,.6,.4, .25,.15,.1,.08,.05,.05,.1,.08,.02,0, .05,.1,.08,.05,.05,.05,.02,0,-.02,-.05, -.05],
[0,.05,0,-.05,-.05,0,.05,0,-.05,0, 0,-.05,-.15,-.2,-.15,-.05,0,.1,.2,.3, .35,.3,.25,.35,.4,.25,.05,0,.1,.15, .05,0,.05,.15,.25,.35,.42,.45,.35,.2, .1,.05,0,-.05,-.1,-.15,-.2,-.28,-.38,-.42, -.38,-.3,-.25,-.22,-.2,-.18,-.22,-.28,-.3,-.3, -.28]
];

// ---------- layout ----------
const panelData = [TL1,TR1,TL2,TR2,TL3,TR3,DL4,DR4,ML5,ML6,MR6,MR5,ML7,ML8,MR8,MR7];
const colX = [45, 587, 1127, 1669];     // x position of -100 ms
const rowY = [11, 418.3, 825.7, 1233];  // y position of -1 µV
const plotW = 421, plotH = 330;
const ink = "#231f20";
const seriesStyle = [
  {w:3.0, dash:null},
  {w:1.25, dash:"1.2,2.2"},
  {w:1.25, dash:"4,2.6"},
  {w:1.25, dash:"11,5"},
  {w:1.15, dash:null}
];

const svg = d3.select("#chart");
const bad = [];

panelData.forEach((series, p) => {
  const r = Math.floor(p / 4), c = p % 4;
  const x = d3.scaleLinear().domain([-100, 500]).range([colX[c], colX[c] + plotW]);
  const y = d3.scaleLinear().domain([-1, 2.5]).range([rowY[r], rowY[r] + plotH]);
  const g = svg.append("g");
  const labelled = r === 3;

  // y axis (ticks crossing the line)
  const yl = g.append("g").attr("transform", `translate(${x(0)},0)`)
    .call(d3.axisLeft(y).tickValues(yTickValues).tickSize(4).tickSizeOuter(0).tickPadding(2)
      .tickFormat((d, i) => labelled ? yTickLabels[i] : ""));
  const yr = g.append("g").attr("transform", `translate(${x(0)},0)`)
    .call(d3.axisRight(y).tickValues(yTickValues).tickSize(4).tickSizeOuter(0).tickFormat(""));
  // x axis at zero
  const xb = g.append("g").attr("transform", `translate(0,${y(0)})`)
    .call(d3.axisBottom(x).tickValues(xTickValues).tickSize(9).tickSizeOuter(0).tickPadding(3)
      .tickFormat((d, i) => labelled ? xTickLabels[i] : ""));
  const xt = g.append("g").attr("transform", `translate(0,${y(0)})`)
    .call(d3.axisTop(x).tickValues(xTickValues).tickSize(9).tickSizeOuter(0).tickFormat(""));

  [yl, yr, xb, xt].forEach(a => {
    a.attr("font-family", null).attr("font-size", null);
    a.select(".domain").attr("stroke", ink).attr("stroke-width", 1.8);
    a.selectAll(".tick line").attr("stroke", ink).attr("stroke-width", 1.5);
    a.selectAll(".tick text").attr("fill", ink).style("font-size", "12px");
  });
  xb.selectAll(".tick text").filter(d => d === 0).attr("dx", -9).attr("dy", "-0.2em");

  // waveforms
  const line = d3.line()
    .x((d, i) => x(times[i]))
    .y(d => y(d))
    .curve(d3.curveCatmullRom.alpha(0.5));
  [4, 3, 2, 1, 0].forEach(s => {
    const vals = series[s];
    if (vals.length !== times.length) bad.push(panelNames[p] + ":" + seriesNames[s] + "=" + vals.length);
    const st = seriesStyle[s];
    g.append("path").datum(vals)
      .attr("d", line)
      .attr("fill", "none")
      .attr("stroke", ink)
      .attr("stroke-width", st.w)
      .attr("stroke-linejoin", "round")
      .attr("stroke-dasharray", st.dash);
  });

  // title
  g.append("text").attr("x", colX[c] + plotW / 2 + 4).attr("y", rowY[r] + 5)
    .attr("text-anchor", "middle").style("font-size", "17px").text(panelNames[p]);

  if (c === 0) {
    g.append("text")
      .attr("transform", `translate(17,${rowY[r] + 178}) rotate(-90)`)
      .attr("text-anchor", "middle").style("font-size", "17.5px").text("Amplitude (µV)");
  }
  if (labelled) {
    g.append("text").attr("x", colX[c] + plotW / 2 + 15).attr("y", 1593)
      .attr("text-anchor", "middle").style("font-size", "18.5px").text("Time (msec)");
  }
});

// legend
const lg = svg.append("g");
lg.append("rect").attr("x", 1993.5).attr("y", 1448.5).attr("width", 99).attr("height", 95)
  .attr("fill", "#fff").attr("stroke", "#444").attr("stroke-width", 1.2);
const legendY = d3.scalePoint().domain(seriesNames).range([1461, 1532]);
seriesNames.forEach((name, s) => {
  const st = seriesStyle[s];
  lg.append("line").attr("x1", 2001).attr("x2", 2040)
    .attr("y1", legendY(name)).attr("y2", legendY(name))
    .attr("stroke", ink).attr("stroke-width", st.w).attr("stroke-dasharray", st.dash);
  lg.append("text").attr("x", 2043).attr("y", legendY(name)).attr("dy", "0.35em")
    .style("font-size", "12px").text(name);
});

if (bad.length) {
  svg.append("text").attr("x", 600).attr("y", 1500).attr("fill", "red").style("font-size", "14px").text(bad.join(" "));
}
</script>
</body></html>
